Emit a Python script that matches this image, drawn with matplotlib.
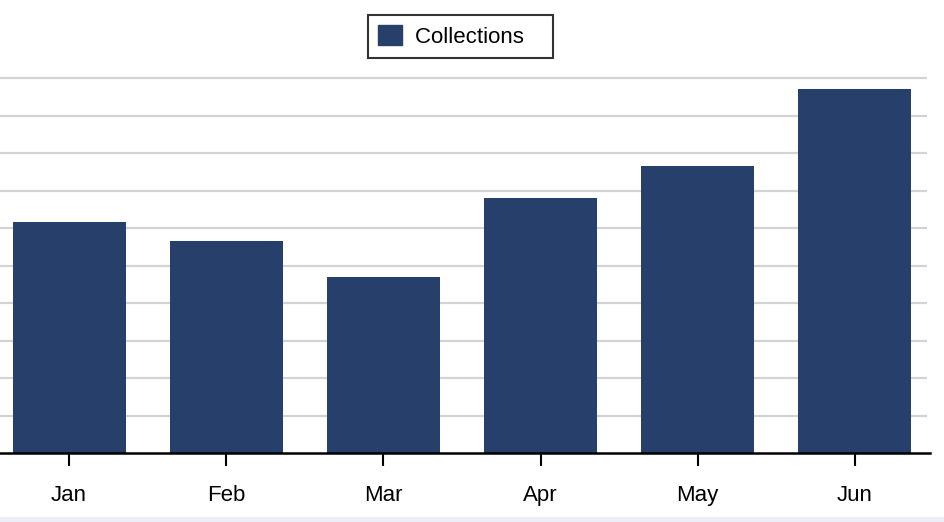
import matplotlib
matplotlib.use("Agg")
import matplotlib.pyplot as plt
from matplotlib.patches import Rectangle, Patch

months = ["Jan", "Feb", "Mar", "Apr", "May", "Jun"]
collections = [61.6, 56.5, 46.9, 68.0, 76.5, 97.1]
series_name = "Collections"
grid_values = list(range(10, 101, 10))

plt.rcParams['font.family'] = ['Liberation Sans', 'DejaVu Sans']

W, H = 944, 522
fig = plt.figure(figsize=(W / 100, H / 100), dpi=100)
fig.patches.append(Rectangle((0, 0), 1, 5 / H, transform=fig.transFigure,
                             facecolor="#eceef6", edgecolor="none", zorder=0))

left_px, right_px = -9.5, 933.5
bottom_px, top_px = 453, 78
ax = fig.add_axes([left_px / W, (H - bottom_px) / H,
                   (right_px - left_px) / W, (bottom_px - top_px) / H])

color = "#27406b"
x = range(len(months))
ax.bar(x, collections, width=0.72, color=color, zorder=3)
ax.set_xlim(-0.5, len(months) - 0.5)
ax.set_ylim(0, 100)
ax.hlines(grid_values, -0.5 + 9.5 / 157, 5.5 - 6.5 / 157, colors="#d3d3d3",
          linewidth=1.6, zorder=1, clip_on=False)
ax.tick_params(axis="y", left=False, labelleft=False)
ax.set_xticks(list(x))
ax.set_xticklabels(months, fontsize=16)
ax.tick_params(axis="x", length=9, width=1.5, color="black", pad=14)
for s in ["top", "right", "left"]:
    ax.spines[s].set_visible(False)
ax.spines["bottom"].set_linewidth(1.8)
ax.spines["bottom"].set_zorder(4)
ax.spines["bottom"].set_bounds(-0.5 + 9.5 / 157, 5.5 - 3.5 / 157)

leg = fig.legend(handles=[Patch(facecolor=color, edgecolor=color, label=series_name + "   ")],
                 loc="center", bbox_to_anchor=(460.5 / W, 1 - 36.5 / H),
                 frameon=True, fancybox=False, fontsize=16, handlelength=1.05,
                 handleheight=1.0, borderpad=0.47, handletextpad=0.62,
                 borderaxespad=0)
leg.get_frame().set_edgecolor("black")
leg.get_frame().set_linewidth(1.5)

fig.savefig("out.png", dpi=100)
